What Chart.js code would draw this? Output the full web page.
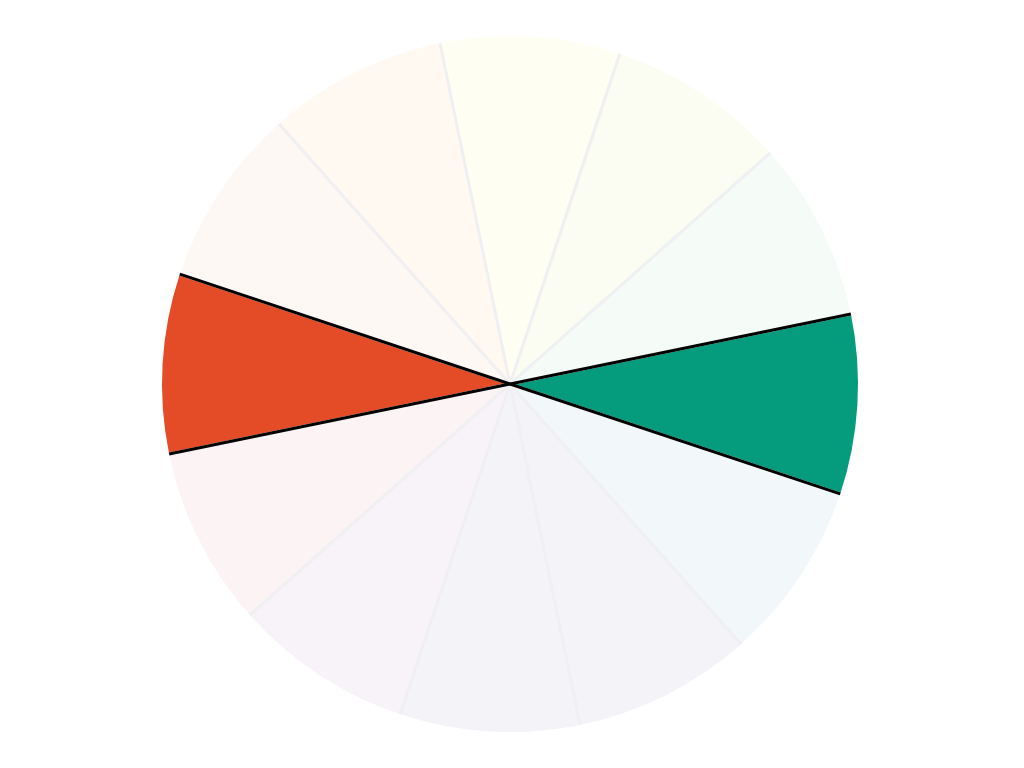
<!DOCTYPE html>
<html>
<head>
<meta charset="utf-8">
<script src="https://cdn.jsdelivr.net/npm/chart.js@4"></script>
<style>
  html, body { margin: 0; padding: 0; background: #fff; }
  #wrap { width: 1024px; height: 768px; }
</style>
</head>
<body>
<div id="wrap"><canvas id="chart"></canvas></div>
<script>
const labels = ['1', '2', '3', '4', '5', '6', '7', '8', '9', '10', '11', '12'];
const values = [1, 1, 1, 1, 1, 1, 1, 1, 1, 1, 1, 1];
const highlighted = [false, false, false, true, false, false, false, false, false, true, false, false];
const colors = [
  '#FFFEF2', '#FBFCF2', '#F5FBF7', '#049C7C', '#F2F7FA', '#F4F3F8',
  '#F4F3F8', '#F7F3F8', '#FCF3F4', '#E44B27', '#FDF8F4', '#FFF9F1'
];

// radial separators only, no outline on the rim
const edgeLines = {
  id: 'edgeLines',
  afterDatasetsDraw(chart) {
    const ctx = chart.ctx;
    const arcs = chart.getDatasetMeta(0).data;
    const line = (a, angle, color, width) => {
      ctx.beginPath();
      ctx.moveTo(a.x, a.y);
      ctx.lineTo(a.x + a.outerRadius * Math.cos(angle), a.y + a.outerRadius * Math.sin(angle));
      ctx.strokeStyle = color;
      ctx.lineWidth = width;
      ctx.stroke();
    };
    ctx.save();
    ctx.lineCap = 'butt';
    arcs.forEach(a => line(a, a.startAngle, '#F0F0F3', 3));
    arcs.forEach((a, i) => {
      if (!highlighted[i]) return;
      line(a, a.startAngle, '#000', 3);
      line(a, a.endAngle, '#000', 3);
    });
    ctx.restore();
  }
};

new Chart(document.getElementById('chart'), {
  type: 'pie',
  data: {
    labels: labels,
    datasets: [{
      data: values,
      backgroundColor: colors,
      borderWidth: 0
    }]
  },
  options: {
    responsive: true,
    maintainAspectRatio: false,
    animation: false,
    rotation: -11.6,
    layout: { padding: { top: 36, bottom: 36, left: 34, right: 38 } },
    plugins: {
      legend: { display: false },
      tooltip: { enabled: false }
    }
  },
  plugins: [edgeLines]
});
</script>
</body>
</html>
